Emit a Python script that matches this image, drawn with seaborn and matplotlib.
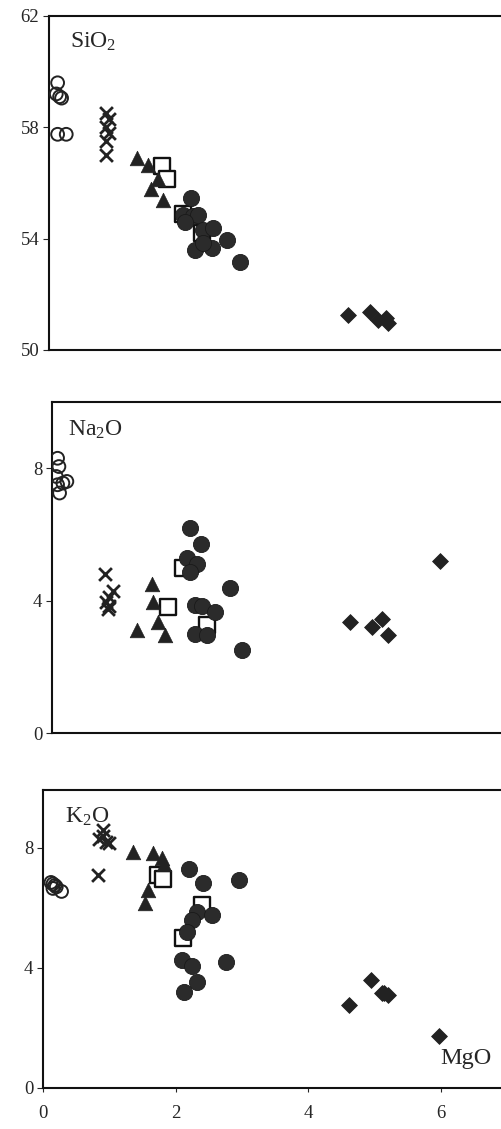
import numpy as np
import pandas as pd
import matplotlib
matplotlib.use("Agg")
import matplotlib.pyplot as plt
import seaborn as sns

sns.set_style("ticks")
plt.rcParams["font.family"] = ["Liberation Serif", "DejaVu Serif"]
plt.rcParams["mathtext.fontset"] = "custom"
plt.rcParams["mathtext.rm"] = "Liberation Serif"
plt.rcParams["mathtext.default"] = "regular"

# --- SiO2 vs MgO ---
si_open_x = [0.22, 0.20, 0.25, 0.28, 0.22, 0.35]
si_open_y = [59.6, 59.2, 59.1, 59.05, 57.75, 57.75]
si_cross_x = [0.95, 1.00, 0.95, 1.00, 0.95, 0.95]
si_cross_y = [58.5, 58.3, 58.0, 57.8, 57.5, 57.0]
si_tri_x = [1.42, 1.58, 1.74, 1.63, 1.81]
si_tri_y = [56.9, 56.65, 56.14, 55.8, 55.39]
si_sq_x = [1.79, 1.87, 2.11, 2.40]
si_sq_y = [56.6, 56.14, 54.9, 54.2]
si_dot_x = [2.23, 2.11, 2.26, 2.34, 2.14, 2.42, 2.57, 2.77, 2.29, 2.55, 2.42, 2.97]
si_dot_y = [55.45, 54.85, 54.8, 54.85, 54.6, 54.3, 54.4, 53.95, 53.6, 53.66, 53.85, 53.16]
si_dia_x = [4.60, 4.93, 5.05, 5.17, 5.20]
si_dia_y = [51.26, 51.37, 51.07, 51.15, 50.97]

# --- Na2O vs MgO ---
na_open_x = [0.22, 0.24, 0.20, 0.22, 0.30, 0.36, 0.25]
na_open_y = [8.3, 8.05, 7.75, 7.5, 7.55, 7.6, 7.25]
na_cross_x = [0.93, 1.05, 1.00, 0.95, 1.00, 0.98]
na_cross_y = [4.8, 4.3, 4.1, 3.95, 3.85, 3.75]
na_tri_x = [1.64, 1.66, 1.42, 1.74, 1.84]
na_tri_y = [4.5, 3.95, 3.1, 3.35, 2.95]
na_sq_x = [2.11, 1.89, 2.47]
na_sq_y = [5.0, 3.8, 3.25]
na_dot_x = [2.22, 2.38, 2.17, 2.32, 2.22, 2.82, 2.29, 2.40, 2.60, 2.29, 2.47, 3.00]
na_dot_y = [6.2, 5.72, 5.3, 5.1, 4.85, 4.37, 3.86, 3.85, 3.65, 3.0, 2.95, 2.5]
na_dia_x = [5.99, 4.63, 4.96, 5.11, 5.20]
na_dia_y = [5.2, 3.35, 3.2, 3.45, 2.95]

# --- K2O vs MgO ---
k_open_x = [0.12, 0.15, 0.18, 0.20, 0.28, 0.15]
k_open_y = [6.85, 6.8, 6.75, 6.7, 6.55, 6.65]
k_cross_x = [0.83, 0.90, 0.85, 0.95, 0.90, 1.00]
k_cross_y = [7.1, 8.6, 8.3, 8.2, 8.4, 8.15]
k_tri_x = [1.36, 1.66, 1.79, 1.82, 1.59, 1.54]
k_tri_y = [7.87, 7.83, 7.67, 7.45, 6.6, 6.17]
k_sq_x = [1.74, 1.81, 2.40, 2.11]
k_sq_y = [7.1, 6.97, 6.1, 5.0]
k_dot_x = [2.20, 2.41, 2.96, 2.32, 2.55, 2.25, 2.17, 2.10, 2.25, 2.76, 2.32, 2.13]
k_dot_y = [7.3, 6.83, 6.93, 5.87, 5.77, 5.6, 5.2, 4.27, 4.07, 4.2, 3.53, 3.2]
k_dia_x = [4.95, 4.62, 5.11, 5.20, 5.15, 5.97]
k_dia_y = [3.6, 2.77, 3.17, 3.1, 3.15, 1.73]

panels = [
    dict(label=r"SiO$_2$", ylim=(50, 62), yticks=[50, 54, 58, 62],
         groups=[(si_sq_x, si_sq_y), (si_open_x, si_open_y), (si_cross_x, si_cross_y),
                 (si_tri_x, si_tri_y), (si_dot_x, si_dot_y), (si_dia_x, si_dia_y)],
         box=(49, 16, 501, 350), xlim0=0.09, txt=(0.046, 0.922)),
    dict(label=r"Na$_2$O", ylim=(0, 10), yticks=[0, 4, 8],
         groups=[(na_sq_x, na_sq_y), (na_open_x, na_open_y), (na_cross_x, na_cross_y),
                 (na_tri_x, na_tri_y), (na_dot_x, na_dot_y), (na_dia_x, na_dia_y)],
         box=(52, 402, 501, 733), xlim0=0.136, txt=(0.036, 0.915)),
    dict(label=r"K$_2$O", ylim=(0, 9.93), yticks=[0, 4, 8],
         groups=[(k_sq_x, k_sq_y), (k_open_x, k_open_y), (k_cross_x, k_cross_y),
                 (k_tri_x, k_tri_y), (k_dot_x, k_dot_y), (k_dia_x, k_dia_y)],
         box=(43, 790, 501, 1088), xlim0=0.0, txt=(0.048, 0.909)),
]

dark = "#222222"
styles = [
    dict(marker="s", s=120, facecolor="white", edgecolor="#111111", linewidth=1.7),
    dict(marker="o", s=85, facecolor="none", edgecolor=dark, linewidth=1.4),
    dict(marker="x", s=85, color=dark, linewidth=2.0),
    dict(marker="^", s=110, color=dark, edgecolor=dark, linewidth=0.5),
    dict(marker="o", s=135, color="#2b2b2b", edgecolor="#1a1a1a", linewidth=0.6),
    dict(marker="D", s=65, color=dark, edgecolor=dark, linewidth=0.6),
]

W, H = 501, 1129
fig = plt.figure(figsize=(W / 100, H / 100), dpi=100)

for i, p in enumerate(panels):
    l, t, r, b = p["box"]
    ax = fig.add_axes([l / W, 1 - b / H, (r - l) / W, (b - t) / H])
    for (gx, gy), st in zip(p["groups"], styles):
        df = pd.DataFrame({"MgO": gx, "val": gy})
        sns.scatterplot(data=df, x="MgO", y="val", ax=ax, zorder=3, **st)
    ax.set_xlim(p["xlim0"], 6.91)
    ax.set_ylim(*p["ylim"])
    ax.set_yticks(p["yticks"])
    ax.set_xlabel("")
    ax.set_ylabel("")
    ax.spines["right"].set_visible(False)
    for sp in ["left", "top", "bottom"]:
        ax.spines[sp].set_linewidth(1.5)
        ax.spines[sp].set_color("#111111")
    ax.tick_params(axis="y", direction="out", length=4, width=0.8, labelsize=13.5, pad=3)
    if i == 2:
        ax.set_xticks([0, 2, 4, 6])
        ax.tick_params(axis="x", direction="out", length=3, width=0.8, labelsize=13.5, pad=9)
        ax.text(0.867, 0.10, "MgO", transform=ax.transAxes, fontsize=17.5,
                ha="left", va="center")
    else:
        ax.set_xticks([])
    ax.text(p["txt"][0], p["txt"][1], p["label"], transform=ax.transAxes,
            fontsize=17, ha="left", va="center")

fig.savefig("out.png", dpi=100)
